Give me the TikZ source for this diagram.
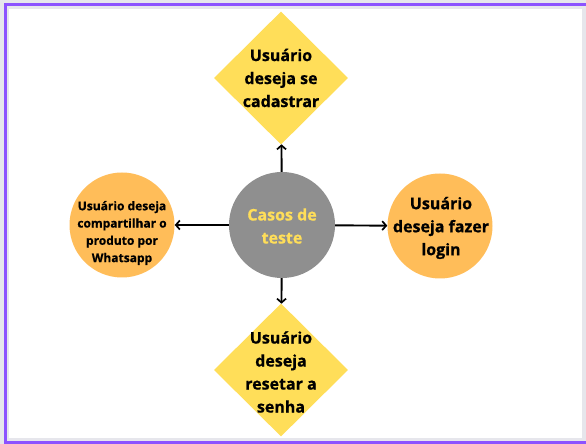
\documentclass[tikz,border=0pt]{standalone}
\usepackage{fontspec}
\setmainfont{Open Sans}[BoldFeatures={FakeBold=0.7}]
\usetikzlibrary{shapes.geometric,arrows.meta}
\definecolor{framepurple}{HTML}{8C52FF}
\definecolor{outergray}{HTML}{E6E6EC}
\definecolor{centergray}{HTML}{8F8F8F}
\definecolor{orangefill}{HTML}{FFBD59}
\definecolor{yellowfill}{HTML}{FFDE59}
\tikzset{
  x=1pt,y=1pt,
  circlebox/.style={circle,draw=none,inner sep=0pt,minimum size=#1},
  diamondbox/.style={diamond,draw=none,fill=yellowfill,inner sep=0pt,minimum width=134pt,minimum height=133pt},
  bigtxt/.style={align=center,inner sep=0pt,font=\fontsize{16}{23}\selectfont\bfseries},
  smalltxt/.style={align=center,inner sep=0pt,font=\fontsize{12}{17.3}\selectfont\bfseries},
  arr/.style={line width=1.9pt,-{Straight Barb[length=4pt,width=9pt,line width=1.7pt]}},
}
\begin{document}
\begin{tikzpicture}
\useasboundingbox (0,0) rectangle (586,444);
% background and frame
\fill[outergray] (0,0) rectangle (586,444);
\fill[white] (9,6) rectangle (582,435);
\fill[framepurple] (4,0) rectangle (7,441);
\fill[framepurple] (4,438) rectangle (586,441);
\fill[framepurple] (4,0) rectangle (586,3);
% shapes
\node[circlebox=106pt,fill=centergray] (c) at (282,219) {};
\node[circlebox=105pt,fill=orangefill] (l) at (122,219) {};
\node[circlebox=105pt,fill=orangefill] (r) at (440,218) {};
\node[diamondbox] (t) at (281,366) {};
\node[diamondbox] (b) at (281,74) {};
% texts
\node[bigtxt,text=yellowfill] (ct) at (282,218) {Casos de\\teste};
\node[smalltxt] (lt) at (122,211) {Usuário deseja\\compartilhar o\\produto por\\Whatsapp};
\node[bigtxt] (rt) at (441,216) {Usuário\\deseja fazer\\login};
\node[bigtxt] (tt) at (281,366) {Usuário\\deseja se\\cadastrar};
\node[bigtxt] (bt) at (281,72) {Usuário\\deseja\\resetar a\\senha};
% connectors
\draw[arr] (c) -- (t);
\draw[arr] (c) -- (b);
\draw[arr] (c) -- (l);
\draw[arr] (c) -- (r);
\end{tikzpicture}
\end{document}
